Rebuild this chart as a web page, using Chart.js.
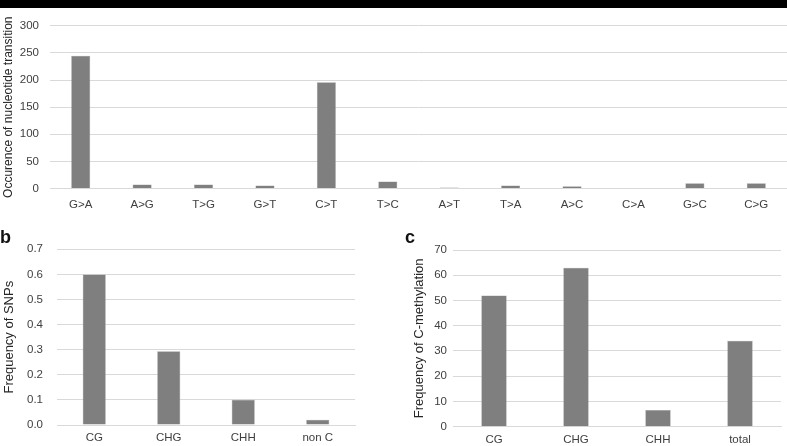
<!DOCTYPE html>
<html>
<head>
<meta charset="utf-8">
<script src="https://cdn.jsdelivr.net/npm/chart.js@4.4.1/dist/chart.umd.min.js"></script>
<style>
  body { margin: 0; background: #fff; width: 787px; height: 446px; overflow: hidden; position: relative; font-family: "Liberation Sans", Arial, sans-serif; }
  .box { position: absolute; }
  .topbar { position: absolute; left: 0; top: 0; width: 787px; height: 8px; background: #000; z-index: 5; }
  .tag { position: absolute; font-weight: bold; font-size: 18px; color: #111; }
</style>
</head>
<body>
<div class="topbar"></div>
<div class="box" style="left:0;top:8px;width:787px;height:212px"><canvas id="chartA"></canvas></div>
<div class="box" style="left:0;top:220px;width:400px;height:226px"><canvas id="chartB"></canvas></div>
<div class="box" style="left:400px;top:220px;width:387px;height:226px"><canvas id="chartC"></canvas></div>
<div class="tag" style="left:0px;top:227px">b</div>
<div class="tag" style="left:405px;top:227px">c</div>
<script>
const transitionLabels = ["G>A", "A>G", "T>G", "G>T", "C>T", "T>C", "A>T", "T>A", "A>C", "C>A", "G>C", "C>G"];
const transitionCounts = [245, 7.5, 7.5, 5.5, 196, 13, 2, 5.5, 4, 0, 9.5, 9.5];

const snpLabels = ["CG", "CHG", "CHH", "non C"];
const snpFreq = [0.6, 0.294, 0.101, 0.021];

const methLabels = ["CG", "CHG", "CHH", "total"];
const methFreq = [52, 63, 6.6, 34];

const BAR = "#7f7f7f";
const GRID = "#d9d9d9";
const TEXT = "#404040";
const FONT = "'Liberation Sans', Arial, sans-serif";

function makeChart(canvasId, labels, values, cfg) {
  return new Chart(document.getElementById(canvasId), {
    type: "bar",
    data: {
      labels: labels,
      datasets: [{
        data: values,
        backgroundColor: BAR,
        borderColor: "#9a9a9a",
        borderWidth: 0.5,
        categoryPercentage: 1,
        barPercentage: 0.31,
      }],
    },
    options: {
      responsive: true,
      maintainAspectRatio: false,
      animation: false,
      layout: { padding: cfg.padding },
      plugins: { legend: { display: false }, tooltip: { enabled: false } },
      scales: {
        x: {
          grid: { display: false, drawTicks: false },
          border: { display: true, color: GRID, width: 1 },
          ticks: { color: TEXT, font: { family: FONT, size: cfg.tickSize }, padding: cfg.xPad, maxRotation: 0, autoSkip: false },
          afterFit: (scale) => { scale.height = cfg.xHeight; },
        },
        y: {
          min: 0,
          max: cfg.max,
          grid: { color: GRID, lineWidth: 1, drawTicks: false },
          border: { display: false },
          ticks: {
            stepSize: cfg.step,
            color: TEXT,
            font: { family: FONT, size: cfg.tickSize },
            padding: cfg.yPad,
            callback: cfg.fmt,
          },
          title: {
            display: true,
            text: cfg.title,
            color: "#262626",
            font: { family: FONT, size: cfg.titleSize },
            padding: { top: cfg.titleTop, bottom: 0 },
          },
          afterFit: (scale) => { scale.width = cfg.yWidth; },
        },
      },
    },
  });
}

makeChart("chartA", transitionLabels, transitionCounts, {
  padding: { top: 13, right: 0, bottom: 0, left: 0 },
  max: 300, step: 50, tickSize: 11.5, titleSize: 12,
  title: "Occurence of nucleotide transition", titleTop: 1,
  yWidth: 50, yPad: 11, xPad: 9, xHeight: 31.5,
  fmt: (v) => v,
});

makeChart("chartB", snpLabels, snpFreq, {
  padding: { top: 29.3, right: 45, bottom: 0, left: 0 },
  max: 0.7, step: 0.1, tickSize: 11.5, titleSize: 13,
  title: "Frequency of SNPs", titleTop: 2,
  yWidth: 57, yPad: 14, xPad: 6, xHeight: 19.3,
  fmt: (v) => Number(v).toFixed(1),
});

makeChart("chartC", methLabels, methFreq, {
  padding: { top: 30, right: 6, bottom: 0, left: 0 },
  max: 70, step: 10, tickSize: 11.5, titleSize: 13,
  title: "Frequency of C-methylation", titleTop: 12,
  yWidth: 53, yPad: 6, xPad: 6, xHeight: 19.3,
  fmt: (v) => v,
});
</script>
</body>
</html>
